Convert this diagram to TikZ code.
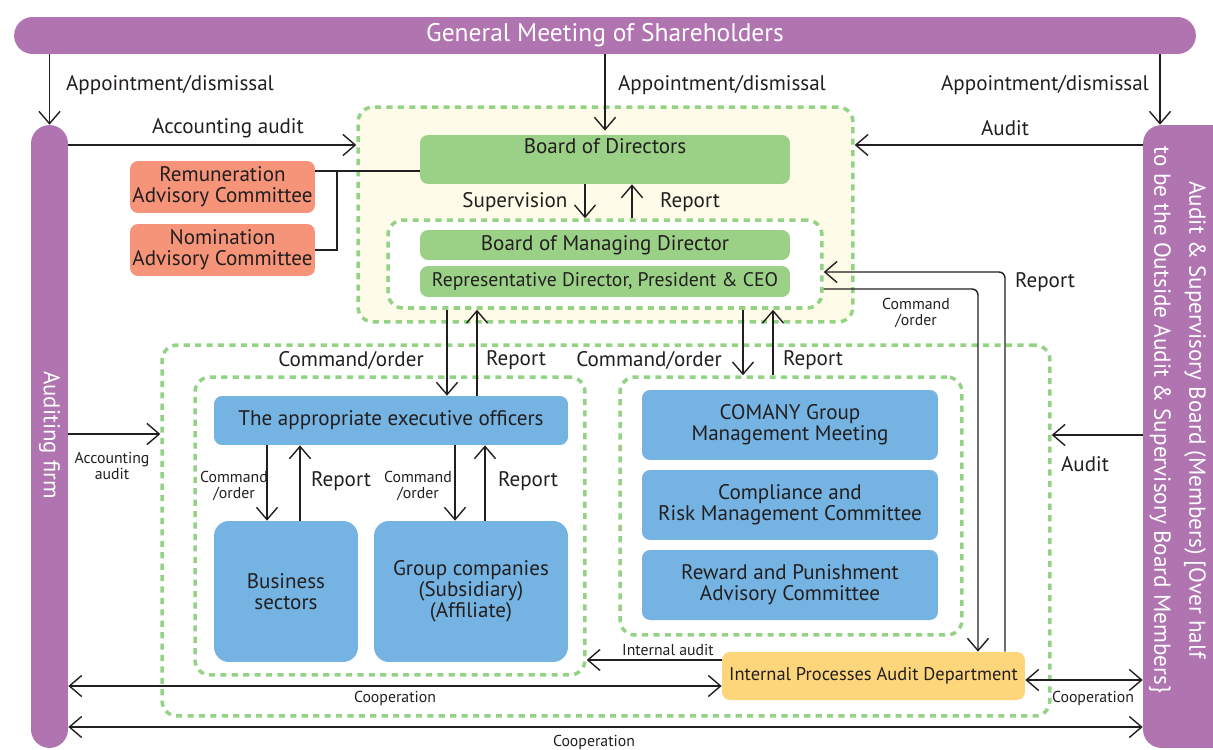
\documentclass[tikz,border=0pt]{standalone}
\usepackage{fontspec}
\setmainfont{PT Sans}
\usetikzlibrary{arrows.meta}

\definecolor{purp}{HTML}{B074B0}
\definecolor{leaf}{HTML}{9BD087}
\definecolor{dashgreen}{HTML}{94D385}
\definecolor{cream}{HTML}{FEFBE8}
\definecolor{salmon}{HTML}{F59478}
\definecolor{sky}{HTML}{74B3E2}
\definecolor{gold}{HTML}{FDD67B}
\definecolor{ink}{HTML}{231F20}

\begin{document}
\begin{tikzpicture}[x=0.02cm, y=-0.02cm,
  every node/.style={text=ink, font=\fontsize{12}{12}\selectfont},
  bar/.style={fill=purp, rounded corners=0.37cm, inner sep=0pt, text=white},
  box/.style={rounded corners=0.16cm, inner sep=0pt, align=center},
  region/.style={draw=dashgreen, line width=2pt, dash pattern=on 3.5pt off 3pt, rounded corners=0.3cm, inner sep=0pt},
  arr/.style={-{Straight Barb[length=7pt,width=12pt]}, line width=0.8pt, draw=ink},
  dbl/.style={{Straight Barb[length=7pt,width=12pt]}-{Straight Barb[length=7pt,width=12pt]}, line width=0.8pt, draw=ink},
  small/.style={font=\fontsize{9}{9.6}\selectfont, align=center, inner sep=1pt}
]
\useasboundingbox (0,0) rectangle (1213,750);

% bars
\node[bar, minimum width=23.64cm, minimum height=0.74cm, font=\fontsize{14.5}{14.5}\selectfont] (gm) at (605,35.5) {General Meeting of Shareholders};
\node[bar, minimum width=0.74cm, minimum height=12.46cm] (firm) at (49.5,436.5) {};
\node[text=white, rotate=-90, font=\fontsize{13}{13}\selectfont] (firmtxt) at (49.5,435) {Auditing firm};
\node[bar, minimum width=1.84cm, minimum height=12.46cm] (asb) at (1189,436.5) {};
\node[text=white, rotate=-90, align=center, font=\fontsize{13.2}{20}\selectfont] (asbtxt) at (1177.5,420) {Audit \& Supervisory Board (Members) [Over half\\to be the Outside Audit \& Supervisory Board Members\}};

% board
\node[region, fill=cream, minimum width=9.9cm, minimum height=4.3cm] (brd) at (605.5,214.5) {};
\node[region, fill=white, minimum width=8.68cm, minimum height=1.76cm] (mgt) at (605,264) {};
\node[box, fill=leaf, minimum width=7.4cm, text height=0.36cm, text depth=0.62cm] (bod) at (605,159.5) {Board of Directors};
\node[box, fill=leaf, minimum width=7.4cm, minimum height=0.6cm] (bmd) at (605,245) {Board of Managing Director};
\node[box, fill=leaf, minimum width=7.4cm, minimum height=0.62cm, font=\fontsize{11.2}{12}\selectfont] (rep) at (605,281.5) {Representative Director, President \& CEO};
\node[box, fill=salmon, minimum width=3.7cm, minimum height=1.04cm] (rem) at (222.5,187) {Remuneration\\Advisory Committee};
\node[box, fill=salmon, minimum width=3.7cm, minimum height=1.04cm] (nom) at (222.5,250) {Nomination\\Advisory Committee};

% execution
\node[region, minimum width=17.76cm, minimum height=7.42cm] (exe) at (606,530.5) {};
\node[region, minimum width=7.8cm, minimum height=5.96cm] (biz) at (390,526) {};
\node[region, minimum width=6.84cm, minimum height=5.16cm] (cmt) at (791,506) {};
\node[box, fill=sky, minimum width=7.08cm, minimum height=0.98cm] (eo) at (391,420.5) {The appropriate executive officers};
\node[box, fill=sky, rounded corners=0.3cm, minimum width=2.88cm, minimum height=2.82cm] (bs) at (286,591.5) {Business\\sectors};
\node[box, fill=sky, rounded corners=0.3cm, minimum width=3.88cm, minimum height=2.82cm] (gc) at (471,591.5) {Group companies\\(Subsidiary)\\(Affiliate)};
\node[box, fill=sky, minimum width=5.92cm, minimum height=1.4cm] (gmm) at (790,425) {COMANY Group\\Management Meeting};
\node[box, fill=sky, minimum width=5.92cm, minimum height=1.4cm] (crm) at (790,505) {Compliance and\\Risk Management Committee};
\node[box, fill=sky, minimum width=5.92cm, minimum height=1.4cm] (rpa) at (790,585) {Reward and Punishment\\Advisory Committee};
\node[box, fill=gold, minimum width=6.06cm, minimum height=0.96cm, font=\fontsize{10.5}{12}\selectfont] (iad) at (873.5,676) {Internal Processes Audit Department};

% labels
\node (lapl) at (170,85) {Appointment/dismissal};
\node (lapm) at (722,85) {Appointment/dismissal};
\node (lapr) at (1045,85) {Appointment/dismissal};
\node (lacc) at (228,128) {Accounting audit};
\node (laud) at (1005,128) {Audit};
\node (lsup) at (515,202) {Supervision};
\node (lrep1) at (690,202) {Report};
\node (lrep4) at (1045,282) {Report};
\node[small] (lcmd3) at (916,313) {Command\\/order};
\node (lcmd1) at (351,360) {Command/order};
\node (lrep2) at (516,360) {Report};
\node (lcmd2) at (649,360) {Command/order};
\node (lrep3) at (813,360) {Report};
\node[small] (lcmd4) at (234,486) {Command\\/order};
\node[inner sep=1pt] (lrep5) at (341,481) {Report};
\node[small] (lcmd5) at (418,486) {Command\\/order};
\node[inner sep=1pt] (lrep6) at (528,481) {Report};
\node[small] (lacc2) at (112,466) {Accounting\\audit};
\node (laud2) at (1085,464) {Audit};
\node[small] (lint) at (668,650) {Internal audit};
\node[small] (lcoop1) at (395,698) {Cooperation};
\node[small] (lcoop2) at (1093,698) {Cooperation};
\node[small] (lcoop3) at (594,742) {Cooperation};

% connectors
\draw[arr] (firm.north |- gm.south) -- (firm.north);
\draw[arr] (bod.north |- gm.south) -- ([yshift=0.08cm]bod.north);
\draw[arr] (1160,0 |- gm.south) -- (1160,0 |- asb.north);
\draw[arr] (firm.east |- 0,145) -- (brd.west |- 0,145);
\draw[arr] (asb.west |- 0,145) -- (brd.east |- 0,145);
\draw[line width=0.8pt, draw=ink] (rem.east |- 0,171) -- (bod.west |- 0,171);
\draw[line width=0.8pt, draw=ink] (337,171) |- (nom.east);
\draw[arr] (585,0 |- bod.south) -- (585,0 |- mgt.north);
\draw[arr] (632,0 |- mgt.north) -- (632,0 |- bod.south);
\draw[arr] (447,0 |- mgt.south) -- (447,0 |- eo.north);
\draw[arr] (477,0 |- eo.north) -- (477,0 |- mgt.south);
\draw[arr] (743,0 |- mgt.south) -- (743,0 |- cmt.north);
\draw[arr] (773,0 |- cmt.north) -- (773,0 |- mgt.south);
\draw[arr, rounded corners=0.12cm] (1005,0 |- iad.north) |- (mgt.east |- 0,272);
\draw[arr, rounded corners=0.12cm] (mgt.east |- 0,289) -| (978,0 |- iad.north);
\draw[arr] (267,0 |- eo.south) -- (267,0 |- bs.north);
\draw[arr] (300,0 |- bs.north) -- (300,0 |- eo.south);
\draw[arr] (455,0 |- eo.south) -- (455,0 |- gc.north);
\draw[arr] (485,0 |- gc.north) -- (485,0 |- eo.south);
\draw[arr] (firm.east |- 0,434) -- (exe.west |- 0,434);
\draw[arr] (asb.west |- 0,435) -- (exe.east |- 0,435);
\draw[arr] (iad.west |- 0,660) -- (biz.east |- 0,660);
\draw[dbl] (firm.east |- 0,686) -- (iad.west |- 0,686);
\draw[dbl] (iad.east |- 0,680) -- (asb.west |- 0,680);
\draw[dbl] (firm.east |- 0,727) -- (asb.west |- 0,727);

\end{tikzpicture}
\end{document}
